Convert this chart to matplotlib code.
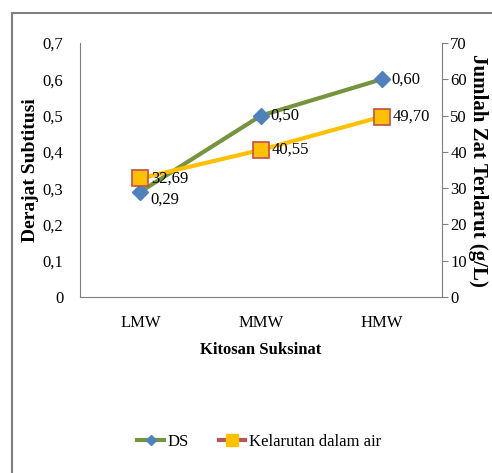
import matplotlib
matplotlib.use("Agg")
import matplotlib.pyplot as plt
from matplotlib.lines import Line2D

categories = ["LMW", "MMW", "HMW"]
ds_values = [0.29, 0.50, 0.60]
kelarutan_values = [32.69, 40.55, 49.70]
ds_labels = ["0,29", "0,50", "0,60"]
kel_labels = ["32,69", "40,55", "49,70"]
left_ticks = [0, 0.1, 0.2, 0.3, 0.4, 0.5, 0.6, 0.7]
left_ticklabels = ["0", "0,1", "0,2", "0,3", "0,4", "0,5", "0,6", "0,7"]
right_ticks = [0, 10, 20, 30, 40, 50, 60, 70]

plt.rcParams['font.family'] = ['Liberation Serif', 'DejaVu Serif']

green = "#77933C"
diamond = "#4F81BD"
yellow = "#FFC000"
edge = "#C0504D"

fig = plt.figure(figsize=(4.92, 4.73), dpi=100)

# ----
# outer frame (top and left edges only)
# ----
fig.add_artist(Line2D([12/492, 12/492], [0, 1 - 13/473], transform=fig.transFigure,
                      color="#808080", linewidth=1.5))
fig.add_artist(Line2D([12/492, 1], [1 - 13/473, 1 - 13/473], transform=fig.transFigure,
                      color="#808080", linewidth=1.5))

ax = fig.add_axes([80/492, 1 - 297/473, 362/492, 254/473])
ax2 = ax.twinx()

x = list(range(len(categories)))
ax.plot(x, ds_values, color=green, linewidth=3, marker="D", markersize=8,
        markerfacecolor=diamond, markeredgecolor=diamond, zorder=3)
ax2.plot(x, kelarutan_values, color=yellow, linewidth=3, marker="s", markersize=11,
         markerfacecolor=yellow, markeredgecolor=edge, markeredgewidth=1.2, zorder=3)

for xi, v, lab in zip(x, ds_values, ds_labels):
    dy = -6 if xi == 0 else 0
    ax.annotate(lab, (xi, v), xytext=(7, dy), textcoords="offset points",
                ha="left", va="center", fontsize=12)
for xi, v, lab in zip(x, kelarutan_values, kel_labels):
    ax2.annotate(lab, (xi, v), xytext=(8, 0), textcoords="offset points",
                 ha="left", va="center", fontsize=12)

ax.set_xlim(-0.5, 2.5)
ax.set_ylim(0, 0.7)
ax2.set_ylim(0, 70)
ax.set_xticks(x)
ax.set_xticklabels(categories, fontsize=12)
ax.set_yticks(left_ticks)
ax.set_yticklabels(left_ticklabels, fontsize=12)
ax2.set_yticks(right_ticks)
ax2.set_yticklabels([str(t) for t in right_ticks], fontsize=12)

for a in (ax, ax2):
    a.spines["top"].set_visible(False)
    for s in ("left", "right", "bottom"):
        a.spines[s].set_color("#7f7f7f")
ax2.spines["left"].set_visible(False)
ax2.spines["bottom"].set_visible(False)
ax.spines["right"].set_visible(False)

ax.tick_params(axis="x", length=0, pad=13)
ax.tick_params(axis="y", length=0, pad=12)
ax2.tick_params(axis="y", length=4, color="#7f7f7f", pad=2)

ax.set_xlabel("Kitosan Suksinat", fontsize=12, fontweight="bold", labelpad=8)
ax.set_ylabel("Derajat Subtitusi", fontsize=14, fontweight="bold", va="center")
ax.yaxis.set_label_coords(-0.137, 0.5)
ax2.set_ylabel("Jumlah Zat Terlarut (g/L)", fontsize=15, fontweight="bold",
               rotation=270, va="center")
ax2.yaxis.set_label_coords(1.1, 0.5)

# ----
# legend
# ----
handles = [
    Line2D([], [], color=green, linewidth=3, marker="D", markersize=5,
           markerfacecolor=diamond, markeredgecolor=diamond),
    Line2D([], [], color="#B5555E", linewidth=3, marker="s", markersize=9,
           markerfacecolor=yellow, markeredgecolor=yellow),
]
fig.legend(handles, ["DS", "Kelarutan dalam air"], loc="center",
           bbox_to_anchor=(259/492, 1 - 442/473), ncol=2, frameon=False,
           fontsize=12, handlelength=1.6, handletextpad=0.2, columnspacing=1.8)

fig.savefig("out.png", dpi=100)
